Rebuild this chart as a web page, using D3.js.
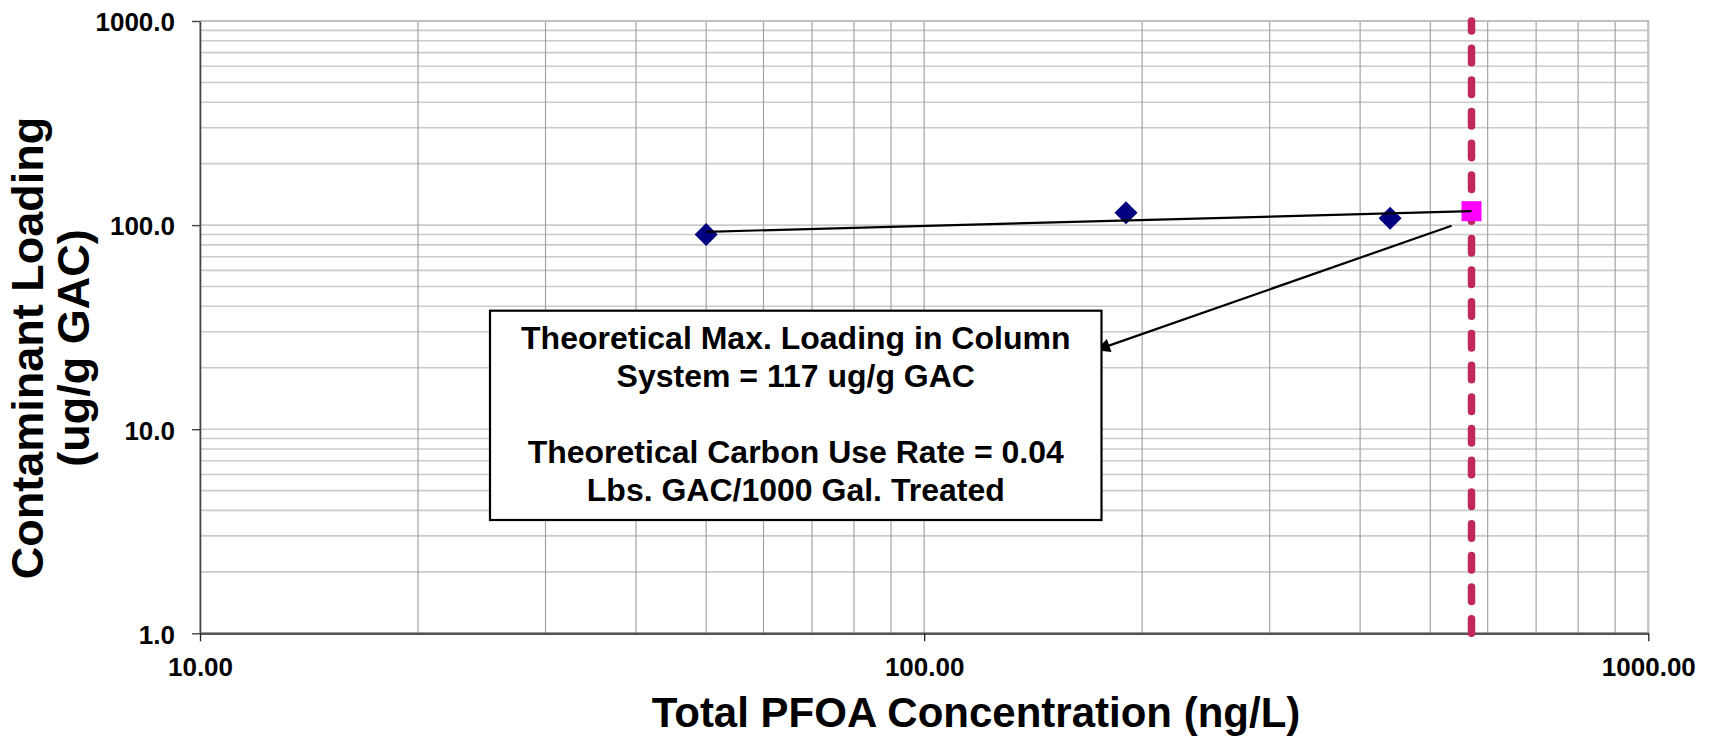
<!DOCTYPE html>
<html>
<head>
<meta charset="utf-8">
<script src="https://cdn.jsdelivr.net/npm/d3@7"></script>
<style>
  body { margin: 0; background: #fff; }
  svg { display: block; font-family: "Liberation Sans", Arial, sans-serif; font-weight: bold; }
</style>
</head>
<body>
<div id="chart"></div>
<script>
// measured sample points (ng/L vs ug/g GAC)
const concentration = [50, 190, 440];
const loading = [90, 115, 108];

// theoretical max loading point and the influent concentration line
const maxConcentration = 570;
const maxLoading = 117;

// trend line ends
const fitX = [50, 570];
const fitY = [92.7, 117];

// annotation arrow (data coordinates): tail, head
const arrowX = [535, 172.7];
const arrowY = [99.3, 24.4];

const xTicks = [10, 100, 1000];
const yTicks = [1, 10, 100, 1000];

const boxLines = [
    "Theoretical Max. Loading in Column",
    "System = 117 ug/g GAC",
    "",
    "Theoretical Carbon Use Rate = 0.04",
    "Lbs. GAC/1000 Gal. Treated"
];

const width = 1719;
const height = 738;
const plot = {left: 200, right: 1648.3, top: 21, bottom: 633.3};

const svg = d3.select("#chart")
    .append("svg")
    .attr("width", width)
    .attr("height", height);

const x = d3.scaleLog().domain([10, 1000]).range([plot.left, plot.right]);
const y = d3.scaleLog().domain([1, 1000]).range([plot.bottom, plot.top]);

// gridlines - horizontal (lighter) then vertical
svg.append("g")
    .selectAll("line")
    .data(y.ticks())
    .enter()
    .append("line")
    .attr("x1", plot.left)
    .attr("x2", plot.right)
    .attr("y1", d => y(d))
    .attr("y2", d => y(d))
    .attr("stroke", "#cbcbcb")
    .attr("stroke-width", 1.6);

svg.append("g")
    .selectAll("line")
    .data(x.ticks())
    .enter()
    .append("line")
    .attr("x1", d => x(d))
    .attr("x2", d => x(d))
    .attr("y1", plot.top)
    .attr("y2", plot.bottom)
    .attr("stroke", "#a4a4a4")
    .attr("stroke-width", 1.2);

// plot border top/right
svg.append("path")
    .attr("d", `M${plot.left},${plot.top}H${plot.right}V${plot.bottom}`)
    .attr("fill", "none")
    .attr("stroke", "#c0c0c0")
    .attr("stroke-width", 2.2);

// axes
const yAxis = d3.axisLeft(y)
    .tickValues(yTicks)
    .tickFormat(d3.format(".1f"))
    .tickSize(8)
    .tickSizeOuter(0)
    .tickPadding(17);

const gy = svg.append("g")
    .attr("transform", `translate(${plot.left},0)`)
    .call(yAxis);
gy.select(".domain").attr("stroke", "#444").attr("stroke-width", 1.6);
gy.selectAll(".tick line").attr("stroke", "#444").attr("stroke-width", 1.4);
gy.selectAll("text")
    .attr("dy", "0.38em")
    .style("font-size", "26px")
    .style("font-weight", "bold")
    .attr("fill", "#000");

const xAxis = d3.axisBottom(x)
    .tickValues(xTicks)
    .tickFormat(d3.format(".2f"))
    .tickSize(8)
    .tickSizeOuter(0)
    .tickPadding(16.5);

const gx = svg.append("g")
    .attr("transform", `translate(0,${plot.bottom})`)
    .call(xAxis);
gx.select(".domain").attr("stroke", "#555").attr("stroke-width", 2.4);
gx.selectAll(".tick line").attr("stroke", "#222").attr("stroke-width", 1.3);
gx.selectAll("text")
    .style("font-size", "26px")
    .style("font-weight", "bold")
    .attr("fill", "#000");

// vertical dashed line at influent concentration, drawn from the bottom up
svg.append("line")
    .attr("x1", x(maxConcentration))
    .attr("x2", x(maxConcentration))
    .attr("y1", y(1))
    .attr("y2", y(1000))
    .attr("stroke", "#bf2858")
    .attr("stroke-width", 7.5)
    .attr("stroke-linecap", "round")
    .attr("stroke-dasharray", "14.5,17.2");

// theoretical max point
svg.append("rect")
    .attr("x", x(maxConcentration) - 10)
    .attr("y", y(maxLoading) - 10)
    .attr("width", 20)
    .attr("height", 20)
    .attr("fill", "#ff00ff");

// measured points as diamonds
const diamond = d3.symbol().type(d3.symbolSquare).size(265);
svg.append("g")
    .selectAll("path")
    .data(concentration)
    .enter()
    .append("path")
    .attr("d", diamond)
    .attr("transform", (d, i) => `translate(${x(d)},${y(loading[i])}) rotate(45)`)
    .attr("fill", "#000080");

// trend line
svg.append("path")
    .datum(fitX.map((d, i) => [d, fitY[i]]))
    .attr("d", d3.line().x(d => x(d[0])).y(d => y(d[1])))
    .attr("fill", "none")
    .attr("stroke", "#000")
    .attr("stroke-width", 2.2);

// annotation arrow
svg.append("defs").append("marker")
    .attr("id", "head")
    .attr("viewBox", "0 0 10 10")
    .attr("refX", 10)
    .attr("refY", 5)
    .attr("markerWidth", 18)
    .attr("markerHeight", 14)
    .attr("markerUnits", "userSpaceOnUse")
    .attr("orient", "auto")
    .append("path")
    .attr("d", "M0,0L10,5L0,10Z")
    .attr("fill", "#000");

svg.append("line")
    .attr("x1", x(arrowX[0]))
    .attr("y1", y(arrowY[0]))
    .attr("x2", x(arrowX[1]))
    .attr("y2", y(arrowY[1]))
    .attr("stroke", "#000")
    .attr("stroke-width", 2.2)
    .attr("marker-end", "url(#head)");

// text box
const box = {x: 490, y: 310.7, w: 611.5, h: 209.3};
svg.append("rect")
    .attr("x", box.x)
    .attr("y", box.y)
    .attr("width", box.w)
    .attr("height", box.h)
    .attr("fill", "#fff")
    .attr("stroke", "#000")
    .attr("stroke-width", 2.2);

svg.append("g")
    .selectAll("text")
    .data(boxLines)
    .enter()
    .append("text")
    .attr("x", box.x + box.w / 2)
    .attr("y", (d, i) => 349 + i * 38)
    .attr("text-anchor", "middle")
    .style("font-size", "32px")
    .text(d => d);

// axis titles
svg.append("text")
    .attr("x", 976)
    .attr("y", 727)
    .attr("text-anchor", "middle")
    .style("font-size", "42px")
    .text("Total PFOA Concentration (ng/L)");

const yTitle = svg.append("g")
    .attr("transform", "translate(43,348) rotate(-90)");
yTitle.append("text")
    .attr("x", 0)
    .attr("y", 0)
    .attr("text-anchor", "middle")
    .style("font-size", "45px")
    .text("Contaminant Loading");
yTitle.append("text")
    .attr("x", 0)
    .attr("y", 46)
    .attr("text-anchor", "middle")
    .style("font-size", "45px")
    .text("(ug/g GAC)");
</script>
</body>
</html>
